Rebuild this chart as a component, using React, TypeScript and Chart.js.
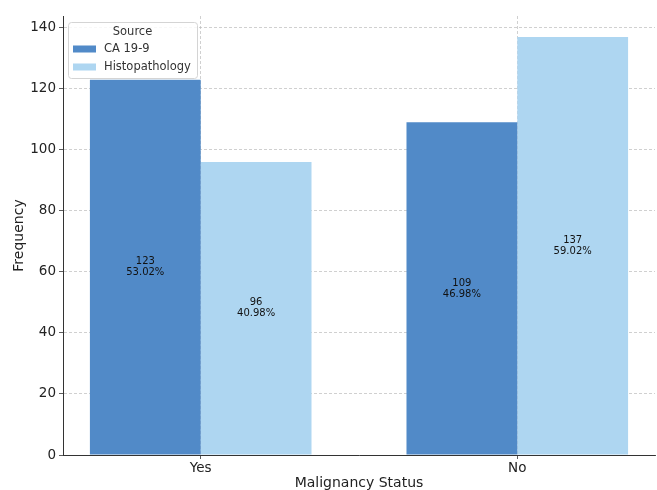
import React, { useEffect, useRef } from 'react';
import { Chart, registerables } from 'chart.js';

Chart.register(...registerables);

const categories = ['Yes', 'No'];
const seriesNames = ['CA 19-9', 'Histopathology'];
const ca199Counts = [123, 109];
const histoCounts = [96, 137];
const ca199Percents = [53.02, 46.98];
const histoPercents = [40.98, 59.02];
const yTickValues = [0, 20, 40, 60, 80, 100, 120, 140];
const seriesColors = ['#518ac8', '#aed6f1'];
const legendTitle = 'Source';
const xTitle = 'Malignancy Status';
const yTitle = 'Frequency';

const FONT = '"DejaVu Sans", sans-serif';

const percentsBySeries = [ca199Percents, histoPercents];

const barLabelPlugin = {
  id: 'barLabels',
  afterDraw(chart: any) {
    const ctx = chart.ctx;
    ctx.save();
    ctx.font = `10px ${FONT}`;
    ctx.fillStyle = '#111';
    ctx.textAlign = 'center';
    ctx.textBaseline = 'middle';
    chart.data.datasets.forEach((ds: any, di: number) => {
      const meta = chart.getDatasetMeta(di);
      meta.data.forEach((bar: any, i: number) => {
        const v = ds.data[i].y;
        const cy = (bar.y + bar.base) / 2;
        ctx.fillText(String(v), bar.x, cy - 5.5);
        ctx.fillText(percentsBySeries[di][i].toFixed(2) + '%', bar.x, cy + 5.5);
      });
    });
    ctx.restore();
  },
};

const boxLegendPlugin = {
  id: 'boxLegend',
  afterDraw(chart: any) {
    const ctx = chart.ctx;
    const { left, top } = chart.chartArea;
    const x = left + 5;
    const y = top + 6;
    const w = 129;
    const h = 56;
    ctx.save();
    ctx.beginPath();
    if (ctx.roundRect) ctx.roundRect(x + 0.5, y + 0.5, w, h, 3);
    else ctx.rect(x + 0.5, y + 0.5, w, h);
    ctx.fillStyle = 'rgba(255,255,255,0.85)';
    ctx.fill();
    ctx.strokeStyle = '#d4d4d4';
    ctx.lineWidth = 1;
    ctx.stroke();
    ctx.font = `11.5px ${FONT}`;
    ctx.fillStyle = '#333';
    ctx.textBaseline = 'middle';
    ctx.textAlign = 'center';
    ctx.fillText(legendTitle, x + w / 2, y + 10);
    chart.data.datasets.forEach((ds: any, i: number) => {
      const ry = y + 27 + i * 18;
      ctx.fillStyle = ds.backgroundColor;
      ctx.fillRect(x + 5, ry - 3.5, 23, 7);
      ctx.fillStyle = '#333';
      ctx.textAlign = 'left';
      ctx.fillText(ds.label, x + 36, ry);
    });
    ctx.restore();
  },
};

export default function App() {
  const canvasRef = useRef<HTMLCanvasElement | null>(null);

  useEffect(() => {
    if (!canvasRef.current) return;
    const seriesCounts = [ca199Counts, histoCounts];
    const gridOpts = {
      offset: false,
      color: 'rgba(185,185,185,0.85)',
      lineWidth: 0.8,
      drawTicks: true,
      tickLength: 4,
      tickColor: '#333',
      tickBorderDash: [],
    };
    const chart = new Chart(canvasRef.current, {
      type: 'bar',
      data: {
        datasets: seriesNames.map((name, si) => ({
          label: name,
          data: categories.map((_, i) => ({ x: i, y: seriesCounts[si][i] })),
          backgroundColor: seriesColors[si],
          borderWidth: 0,
          categoryPercentage: 0.7,
          barPercentage: 1.0,
        })),
      },
      options: {
        animation: false,
        responsive: true,
        maintainAspectRatio: false,
        layout: { padding: { left: 0, right: 2, top: 16, bottom: 0 } },
        plugins: {
          legend: { display: false },
          tooltip: { enabled: false },
        },
        scales: {
          x: {
            type: 'linear',
            min: -0.435,
            max: 1.435,
            offset: false,
            z: 1,
            grid: gridOpts,
            border: { display: true, color: '#333', width: 1, dash: [3, 2] },
            afterBuildTicks: (s: any) => {
              s.ticks = categories.map((_, i) => ({ value: i }));
            },
            afterFit: (s: any) => {
              s.height = 35;
            },
            ticks: {
              autoSkip: false,
              maxRotation: 0,
              padding: 1,
              color: '#222',
              font: { family: FONT, size: 13.5 },
              callback: (v: any) => categories[Math.round(Number(v))] ?? '',
            },
            title: {
              display: true,
              text: xTitle,
              color: '#222',
              font: { family: FONT, size: 14, lineHeight: 1.0 },
              padding: { top: 0, bottom: 0 },
            },
          },
          y: {
            type: 'linear',
            min: 0,
            max: 143.85,
            z: 1,
            grid: gridOpts,
            border: { display: true, color: '#333', width: 1, dash: [3, 2] },
            afterBuildTicks: (s: any) => {
              s.ticks = yTickValues.map((v) => ({ value: v }));
            },
            afterFit: (s: any) => {
              s.width = 63;
            },
            ticks: {
              padding: 3,
              color: '#222',
              font: { family: FONT, size: 13.5 },
            },
            title: {
              display: true,
              text: yTitle,
              color: '#222',
              font: { family: FONT, size: 14 },
              padding: { top: 11, bottom: 0 },
            },
          },
        },
      } as any,
      plugins: [barLabelPlugin, boxLegendPlugin],
    });
    return () => chart.destroy();
  }, []);

  return (
    <div style={{ position: 'fixed', left: 0, top: 0, width: 657, height: 490, background: '#fff' }}>
      <canvas ref={canvasRef} />
    </div>
  );
}
